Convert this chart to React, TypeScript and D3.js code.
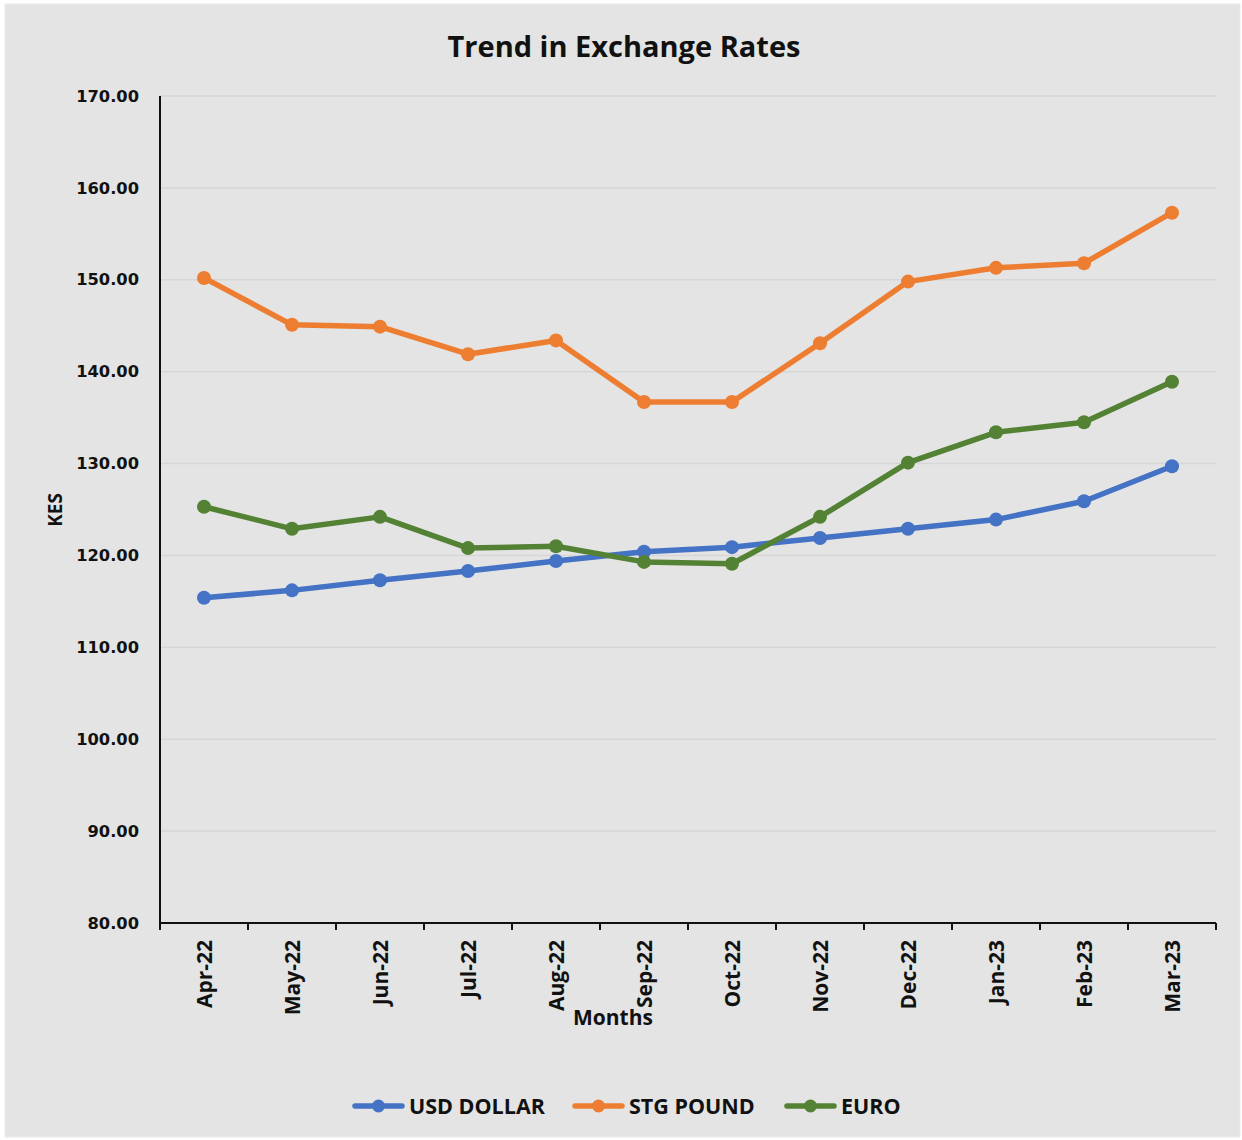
import React from "react";
import * as d3 from "d3";

const months = ["Apr-22","May-22","Jun-22","Jul-22","Aug-22","Sep-22","Oct-22","Nov-22","Dec-22","Jan-23","Feb-23","Mar-23"];
const usd = [115.4,116.2,117.3,118.3,119.4,120.4,120.9,121.9,122.9,123.9,125.9,129.7];
const stg = [150.2,145.1,144.9,141.9,143.4,136.7,136.7,143.1,149.8,151.3,151.8,157.3];
const euro = [125.3,122.9,124.2,120.8,121.0,119.3,119.1,124.2,130.1,133.4,134.5,138.9];
const yTicks = [80,90,100,110,120,130,140,150,160,170];
const seriesNames = ["USD DOLLAR","STG POUND","EURO"];
const seriesColors = ["#4472C4","#ED7D31","#548235"];

export default function App() {
  const W = 1242, H = 1140;
  const left = 160, right = 1216, top = 96, bottom = 923;
  const x = d3.scaleBand<string>().domain(months).range([left, right]);
  const y = d3.scaleLinear().domain([80,170]).range([bottom, top]);
  const seriesData = [usd, stg, euro];
  const line = d3.line<number>().x((_, i) => (x(months[i]) as number) + x.bandwidth()/2).y(d => y(d));
  const boundaries = months.map(m => x(m) as number).concat([right]);
  const legendX = [355, 575, 787];
  const font = "'Open Sans', sans-serif";
  return (
    <svg width={W} height={H} style={{position:"absolute", left:0, top:0}}>
      <rect x={0} y={0} width={W} height={H} fill="#ffffff" />
      <rect x={5} y={4} width={1235} height={1133} fill="#e4e4e4" stroke="#ececec" strokeWidth={1} />
      <text x={624} y={57} textAnchor="middle" fontFamily={font} fontWeight="bold" fontSize={29} fill="#111">Trend in Exchange Rates</text>
      {yTicks.map(t => (
        <g key={t}>
          {t !== 80 && <line x1={left} x2={right} y1={y(t)} y2={y(t)} stroke="#d6d6d6" strokeWidth={1.5} />}
          <text x={139} y={y(t)} dy="0.35em" textAnchor="end" fontFamily="'DejaVu Sans', sans-serif" fontWeight="bold" fontSize={16.3} fill="#111">{t.toFixed(2)}</text>
        </g>
      ))}
      <line x1={left} x2={left} y1={top} y2={bottom + 6} stroke="#111" strokeWidth={2} />
      <line x1={left} x2={right} y1={bottom} y2={bottom} stroke="#111" strokeWidth={2} />
      {boundaries.map((b, i) => (
        <line key={i} x1={b} x2={b} y1={bottom} y2={bottom + 7} stroke="#111" strokeWidth={2} />
      ))}
      {months.map(m => {
        const cx = (x(m) as number) + x.bandwidth()/2;
        return (
          <text key={m} transform={`translate(${cx + 8},${940}) rotate(-90)`} textAnchor="end" fontFamily={font} fontWeight="bold" fontSize={21} fill="#111">{m}</text>
        );
      })}
      <text x={613} y={1025} textAnchor="middle" fontFamily={font} fontWeight="bold" fontSize={21} fill="#111">Months</text>
      <text transform={`translate(62,510) rotate(-90)`} textAnchor="middle" fontFamily={font} fontWeight="bold" fontSize={19} fill="#111">KES</text>
      {seriesData.map((s, si) => (
        <g key={si}>
          <path d={line(s) as string} fill="none" stroke={seriesColors[si]} strokeWidth={5.5} strokeLinejoin="round" strokeLinecap="round" />
          {s.map((v, i) => (
            <circle key={i} cx={(x(months[i]) as number) + x.bandwidth()/2} cy={y(v)} r={7} fill={seriesColors[si]} />
          ))}
        </g>
      ))}
      {seriesNames.map((n, i) => (
        <g key={n}>
          <line x1={legendX[i]} x2={legendX[i] + 47} y1={1106} y2={1106} stroke={seriesColors[i]} strokeWidth={5.5} strokeLinecap="round" />
          <circle cx={legendX[i] + 23.5} cy={1106} r={6.5} fill={seriesColors[i]} />
          <text x={legendX[i] + 54} y={1106} dy="0.36em" fontFamily={font} fontWeight="bold" fontSize={21.5} fill="#111">{n}</text>
        </g>
      ))}
    </svg>
  );
}
